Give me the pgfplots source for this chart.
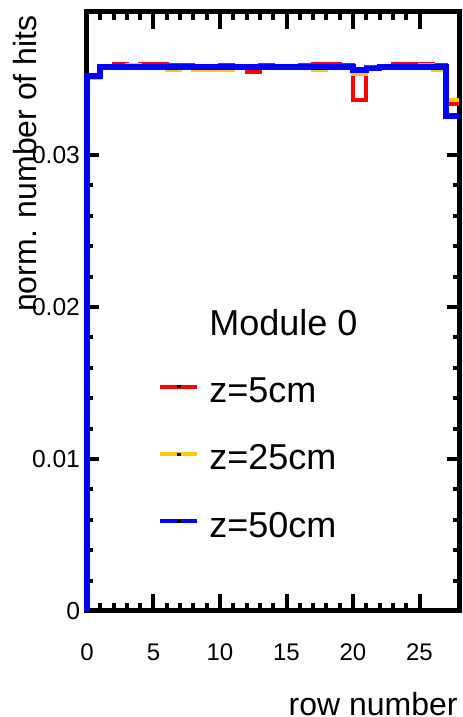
\documentclass[border=0pt]{standalone}
\usepackage{fontspec}
\setmainfont{Liberation Sans}
\usepackage{pgfplots}
\pgfplotsset{compat=1.18}

\definecolor{zred}{RGB}{255,0,0}
\definecolor{zyel}{RGB}{255,200,0}
\definecolor{zblue}{RGB}{0,0,255}

\pgfplotsset{
  hitframe/.style={
    scale only axis,
    width=186.2pt, height=299.5pt,
    xmin=0, xmax=28, ymin=0, ymax=0.039408,
    axis line style={line width=2.5pt, black},
    tick style={line width=2pt, black},
    tick align=inside,
  },
}

\begin{document}
\begin{tikzpicture}
% x ticks (long) on their own axis
\begin{axis}[hitframe,
  xtick={0,5,10,15,20,25},
  xticklabels={0,5,10,15,20,25},
  minor x tick num=4,
  major tick length=8.5pt, minor tick length=4pt,
  ytick=\empty,
  xticklabel style={font=\fontsize{12}{14}\selectfont, yshift=-13pt},
]
\end{axis}
% y ticks, histograms, labels and legend
\begin{axis}[hitframe,
  xtick=\empty,
  ytick={0,0.01,0.02,0.03},
  yticklabels={0,0.01,0.02,0.03},
  minor y tick num=4,
  major tick length=6pt, minor tick length=3pt,
  yticklabel style={font=\fontsize{12.3}{14}\selectfont},
  clip=false,
  legend cell align=left,
  legend image code/.code={
    \draw[#1, line width=2pt] (0pt,3.5pt) -- (18.5pt,3.5pt);
    \fill[black] (8.6pt,3pt) rectangle (9.9pt,4pt);
  },
  legend style={
    at={(rel axis cs:0.1907,0.504)}, anchor=north west,
    draw=none, fill=none, inner sep=0pt,
    font=\fontsize{18}{20}\selectfont,
    nodes={inner sep=0pt, text height=13pt, text depth=4pt},
    row sep=16.6pt, column sep=5pt,
  },
]
% z = 5 cm
\addplot[zred, line width=2pt, const plot, forget plot] coordinates {
 (0,0) (0,0.03520) (1,0.03578) (2,0.03596) (3,0.03580) (4,0.03596)
 (5,0.03596) (6,0.03594) (7,0.03592) (8,0.03580) (9,0.03580)
 (10,0.03590) (11,0.03580) (12,0.03546) (13,0.03590) (14,0.03580)
 (15,0.03580) (16,0.03594) (17,0.03596) (18,0.03596) (19,0.03592)
 (20,0.03359) (21,0.03580) (22,0.03580) (23,0.03596) (24,0.03596)
 (25,0.03596) (26,0.03594) (27,0.03336) (28,0.03336)};
% z = 25 cm
\addplot[zyel, line width=2pt, const plot, forget plot] coordinates {
 (0,0) (0,0.03505) (1,0.03570) (2,0.03580) (3,0.03590) (4,0.03580)
 (5,0.03570) (6,0.03562) (7,0.03570) (8,0.03562) (9,0.03562)
 (10,0.03562) (11,0.03570) (12,0.03570) (13,0.03570) (14,0.03570)
 (15,0.03570) (16,0.03570) (17,0.03562) (18,0.03570) (19,0.03570)
 (20,0.03533) (21,0.03570) (22,0.03570) (23,0.03570) (24,0.03570)
 (25,0.03590) (26,0.03562) (27,0.03363) (28,0.03363)};
% z = 50 cm
\addplot[zblue, line width=2.8pt, const plot, forget plot] coordinates {
 (0,0) (0,0.03521) (1,0.03578) (2,0.03578) (3,0.03578) (4,0.03578)
 (5,0.03578) (6,0.03578) (7,0.03578) (8,0.03578) (9,0.03578)
 (10,0.03578) (11,0.03578) (12,0.03578) (13,0.03578) (14,0.03578)
 (15,0.03578) (16,0.03578) (17,0.03578) (18,0.03578) (19,0.03578)
 (20,0.03559) (21,0.03570) (22,0.03578) (23,0.03578) (24,0.03578)
 (25,0.03578) (26,0.03578) (27,0.03258) (28,0.03258)};

\addlegendimage{empty legend}
\addlegendentry{Module 0}
\addlegendimage{zred}
\addlegendentry{z=5cm}
\addlegendimage{zyel}
\addlegendentry{z=25cm}
\addlegendimage{zblue}
\addlegendentry{z=50cm}

\node[rotate=90, anchor=east, inner sep=0pt, font=\fontsize{16}{18}\selectfont]
  at ([xshift=-31pt, yshift=-1.5pt]rel axis cs:0,1) {norm. number of hits};
\node[anchor=base east, inner sep=0pt, font=\fontsize{16}{18}\selectfont]
  at ([xshift=-0.7pt, yshift=-52pt]rel axis cs:1,0) {row number};
\end{axis}
\pgfresetboundingbox
\path[use as bounding box] (-43.5pt,-53pt) rectangle (187.5pt,305.5pt);
\end{tikzpicture}
\end{document}
